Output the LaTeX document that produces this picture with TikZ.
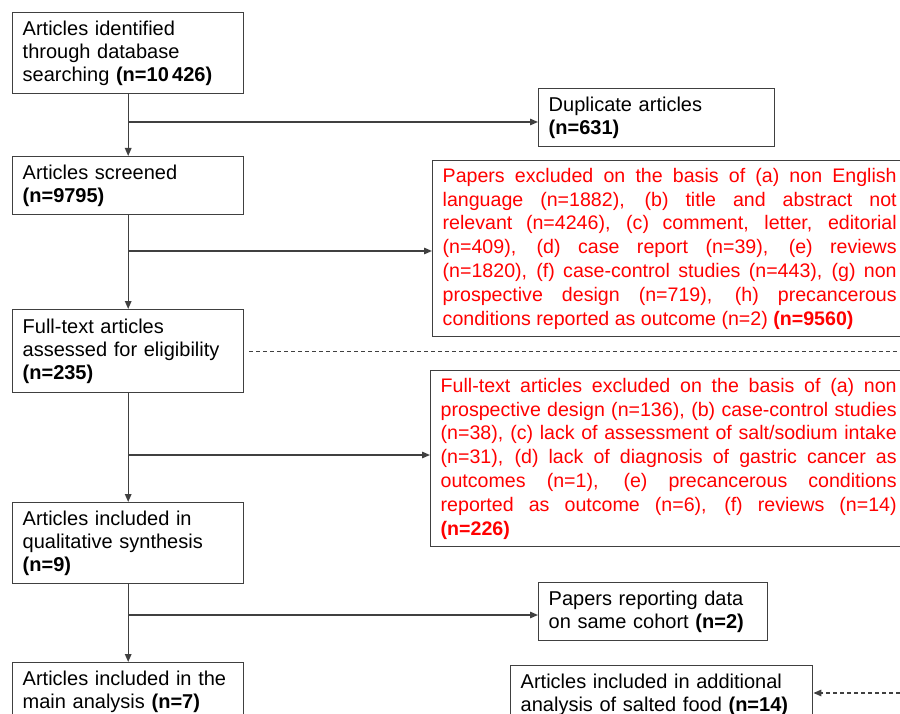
\documentclass[tikz,border=0pt]{standalone}
\usepackage{fontspec}
\setmainfont{Liberation Sans}
\usetikzlibrary{arrows.meta,calc}
\definecolor{framegray}{gray}{0.25}
\definecolor{exclred}{RGB}{255,0,0}
\tikzset{
  flowbox/.style={draw=framegray, line width=1.4pt, anchor=north west, inner xsep=10pt, inner ysep=0pt, align=left, font=\fontsize{20}{23}\selectfont},
  exclbox/.style={flowbox, text=exclred, align=justify, font=\fontsize{19.6}{23.8}\selectfont},
  flowline/.style={draw=framegray, line width=1.4pt},
  flowarrow/.style={flowline, -{Triangle[length=8pt,width=6.5pt]}},
  dashline/.style={dash pattern=on 4pt off 3pt}
}

\begin{document}
\begin{tikzpicture}[x=1pt,y=-1pt]
		%%%%% START %%%%%
		\useasboundingbox (0,0) rectangle (900,714);
		
		% main column
		\node[flowbox, text width=211pt, minimum height=81pt] (ident) at (12,12) {Articles identified\\through database\\searching \textbf{(n=10\,426)}};
		\node[flowbox, text width=211pt, minimum height=58pt] (screen) at (12,156) {Articles screened\\\textbf{(n=9795)}};
		\node[flowbox, text width=211pt, minimum height=83pt] (full) at (12,309) {Full-text articles\\assessed for eligibility\\\textbf{(n=235)}};
		\node[flowbox, text width=211pt, minimum height=81pt] (qual) at (12,502) {Articles included in\\qualitative synthesis\\\textbf{(n=9)}};
		\node[flowbox, text width=211pt, minimum height=58pt] (main) at (12,662) {Articles included in the\\main analysis \textbf{(n=7)}};
		
		% side boxes
		\node[flowbox, text width=216pt, minimum height=58pt] (dup) at (538,88) {Duplicate articles\\\textbf{(n=631)}};
		\node[exclbox, text width=454pt, minimum height=176pt] (excl1) at (432,160) {Papers excluded on the basis of (a) non English\linebreak
			language (n=1882), (b) title and abstract not\linebreak
			relevant (n=4246), (c) comment, letter, editorial\linebreak
			(n=409), (d) case report (n=39), (e) reviews\linebreak
			(n=1820), (f) case-control studies (n=443), (g) non\linebreak
			prospective design (n=719), (h) precancerous\linebreak
			conditions reported as outcome (n=2) \textbf{(n=9560)}};
		\node[exclbox, text width=456pt, minimum height=176pt] (excl2) at (430,370) {Full-text articles excluded on the basis of (a) non\linebreak
			prospective design (n=136), (b) case-control studies\linebreak
			(n=38), (c) lack of assessment of salt/sodium intake\linebreak
			(n=31), (d) lack of diagnosis of gastric cancer as\linebreak
			outcomes (n=1), (e) precancerous conditions\linebreak
			reported as outcome (n=6), (f) reviews (n=14)\linebreak
			\textbf{(n=226)}};
		\node[flowbox, text width=209pt, minimum height=58pt] (cohort) at (538,582) {Papers reporting data\\on same cohort \textbf{(n=2)}};
		\node[flowbox, text width=282pt, minimum height=58pt] (salted) at (510,665) {Articles included in additional\\analysis of salted food \textbf{(n=14)}};
		
		% down arrows
		\draw[flowarrow] (ident.south) -- (screen.north);
		\draw[flowarrow] (screen.south) -- (full.north);
		\draw[flowarrow] (full.south) -- (qual.north);
		\draw[flowarrow] (qual.south) -- (main.north);
		
		% branches
		\coordinate (b1) at ($(ident.south |- 0,122)$);
		\coordinate (b2) at ($(screen.south |- 0,251)$);
		\coordinate (b3) at ($(full.south |- 0,455)$);
		\coordinate (b4) at ($(qual.south |- 0,615)$);
		\draw[flowarrow] (b1) -- (b1 -| dup.west);
		\draw[flowarrow] (b2) -- (b2 -| excl1.west);
		\draw[flowarrow] (b3) -- (b3 -| excl2.west);
		\draw[flowarrow] (b4) -- (b4 -| cohort.west);
		
		% dashed
		\coordinate (edge1) at (900,350);
		\coordinate (edge2) at (900,693);
		\draw[flowline, dashline, shorten <=5pt] (full.east) -- (full.east -| edge1);
		\draw[flowarrow, dashline] (edge2) -- (edge2 -| salted.east);
		
		%%%%% END %%%%%
\end{tikzpicture}
\end{document}
